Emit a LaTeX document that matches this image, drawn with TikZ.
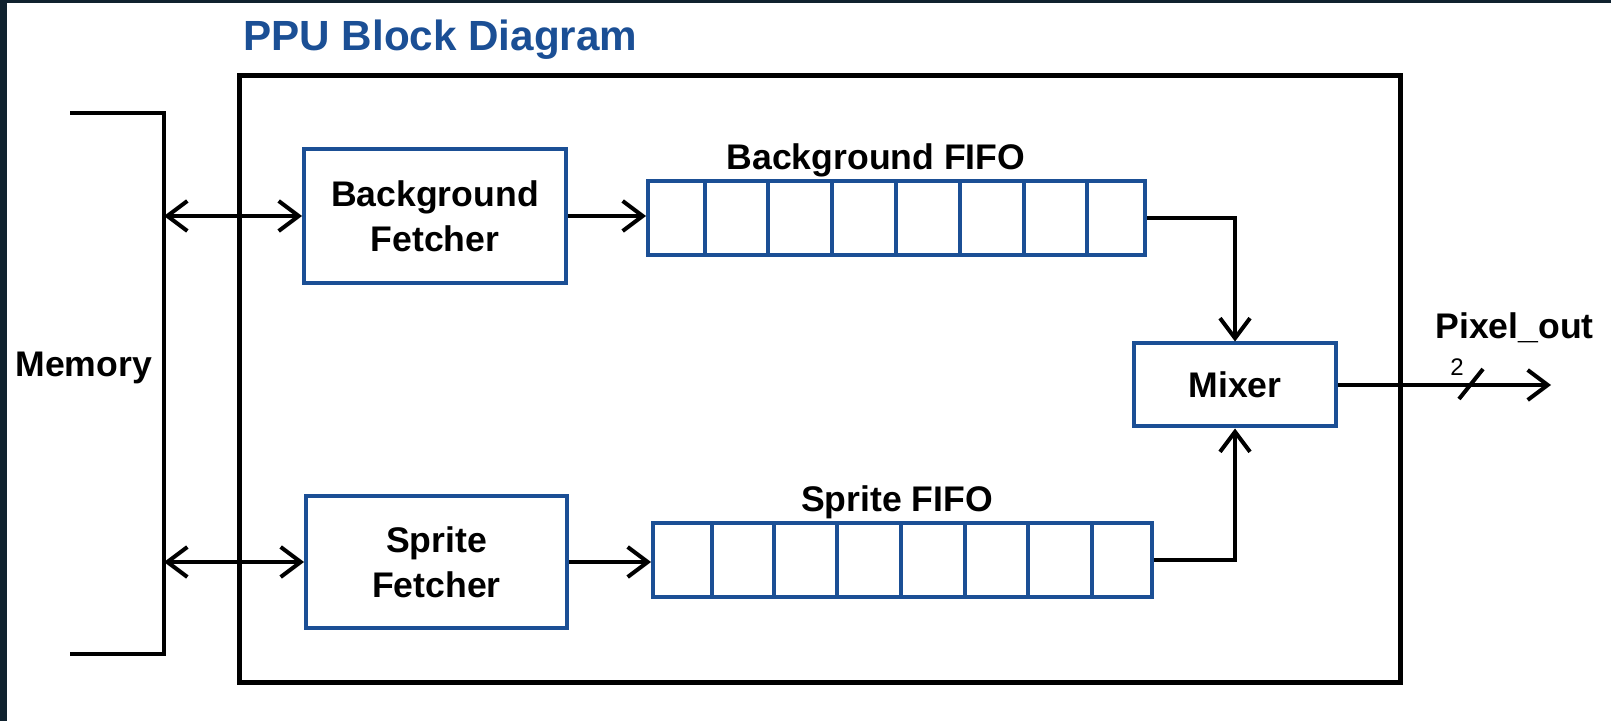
\documentclass[tikz,border=0pt]{standalone}
\usepackage{fontspec}
\setmainfont{Liberation Sans}
\usetikzlibrary{arrows.meta}
\definecolor{ppublue}{HTML}{1B4F95}
\definecolor{framedark}{HTML}{10222F}
\tikzset{
  blockbox/.style={draw=ppublue, line width=2pt, fill=white, inner sep=0pt, align=center,
    font=\fontsize{17.8}{22.5}\selectfont\bfseries},
  wire/.style={draw=black, line width=2pt},
  arr/.style={wire, -{Straight Barb[length=10pt,width=15pt,line width=2pt]}},
  biarr/.style={wire, {Straight Barb[length=10pt,width=15pt,line width=2pt]}-{Straight Barb[length=10pt,width=15pt,line width=2pt]}},
  lbl/.style={font=\fontsize{17.8}{21}\selectfont\bfseries, inner sep=0pt},
  cellline/.style={draw=ppublue, line width=2pt}
}
\begin{document}
\begin{tikzpicture}[x=0.5pt,y=-0.5pt]
\useasboundingbox (0,0) rectangle (1611,721);
\fill[white] (0,0) rectangle (1611,721);
\fill[framedark] (0,0) rectangle (1611,3);
\fill[framedark] (0,0) rectangle (7,721);

% title
\node[anchor=base west, inner sep=0pt, text=ppublue, font=\fontsize{21.1}{24}\selectfont\bfseries] (title) at (243,51) {PPU Block Diagram};

% outer PPU box
\draw[line width=2.5pt] (239,76) rectangle (1400,682);

% memory bracket
\draw[wire, line join=miter] (70,113) -- (164,113) -- (164,654) -- (70,654);
\node[lbl, anchor=base west] (mem) at (15,377) {Memory};

% fetchers
\node[blockbox, minimum width=131pt, minimum height=67pt] (bgf) at (435,216) {Background\\Fetcher};
\node[blockbox, minimum width=130.5pt, minimum height=66pt] (spf) at (436.5,562) {Sprite\\Fetcher};

% FIFOs
\node[blockbox, minimum width=248.5pt, minimum height=37pt] (bgfifo) at (896.5,218) {};
\foreach \x in {705,768,832,896,960,1024,1087} \draw[cellline] (\x,181.5) -- (\x,254.5);
\node[lbl, anchor=base] (bgfifolbl) at (876,170) {Background FIFO};

\node[blockbox, minimum width=249.5pt, minimum height=37pt] (spfifo) at (902.5,560) {};
\foreach \x in {712,774,837,901,965,1028,1092} \draw[cellline] (\x,523.5) -- (\x,596.5);
\node[lbl, anchor=base] (spfifolbl) at (897,511) {Sprite FIFO};

% mixer
\node[blockbox, minimum width=101pt, minimum height=41.5pt] (mix) at (1235,385) {Mixer};

% memory connections
\coordinate (mtop) at (164,216);
\coordinate (mbot) at (164,562);
\draw[biarr] (mtop) -- (bgf.west);
\draw[biarr] (mbot) -- (spf.west);

% fetcher to fifo
\draw[arr] (bgf.east) -- (bgf.east -| bgfifo.west);
\draw[arr] (spf.east) -- (spf.east -| spfifo.west);

% fifo to mixer
\draw[arr, line join=miter] (bgfifo.east) -| (mix.north);
\draw[arr, line join=miter] (spfifo.east) -| (mix.south);

% output
\coordinate (out) at (1551,385);
\draw[arr] (mix.east) -- (out);
\coordinate (sl1) at (1459,399);
\coordinate (sl2) at (1483,369);
\draw[wire] (sl1) -- (sl2);
\node[inner sep=0pt, font=\fontsize{12}{14}\selectfont] (two) at (1457,367) {2};
\node[lbl, anchor=base west] (pix) at (1435,339) {Pixel\_out};
\end{tikzpicture}
\end{document}
